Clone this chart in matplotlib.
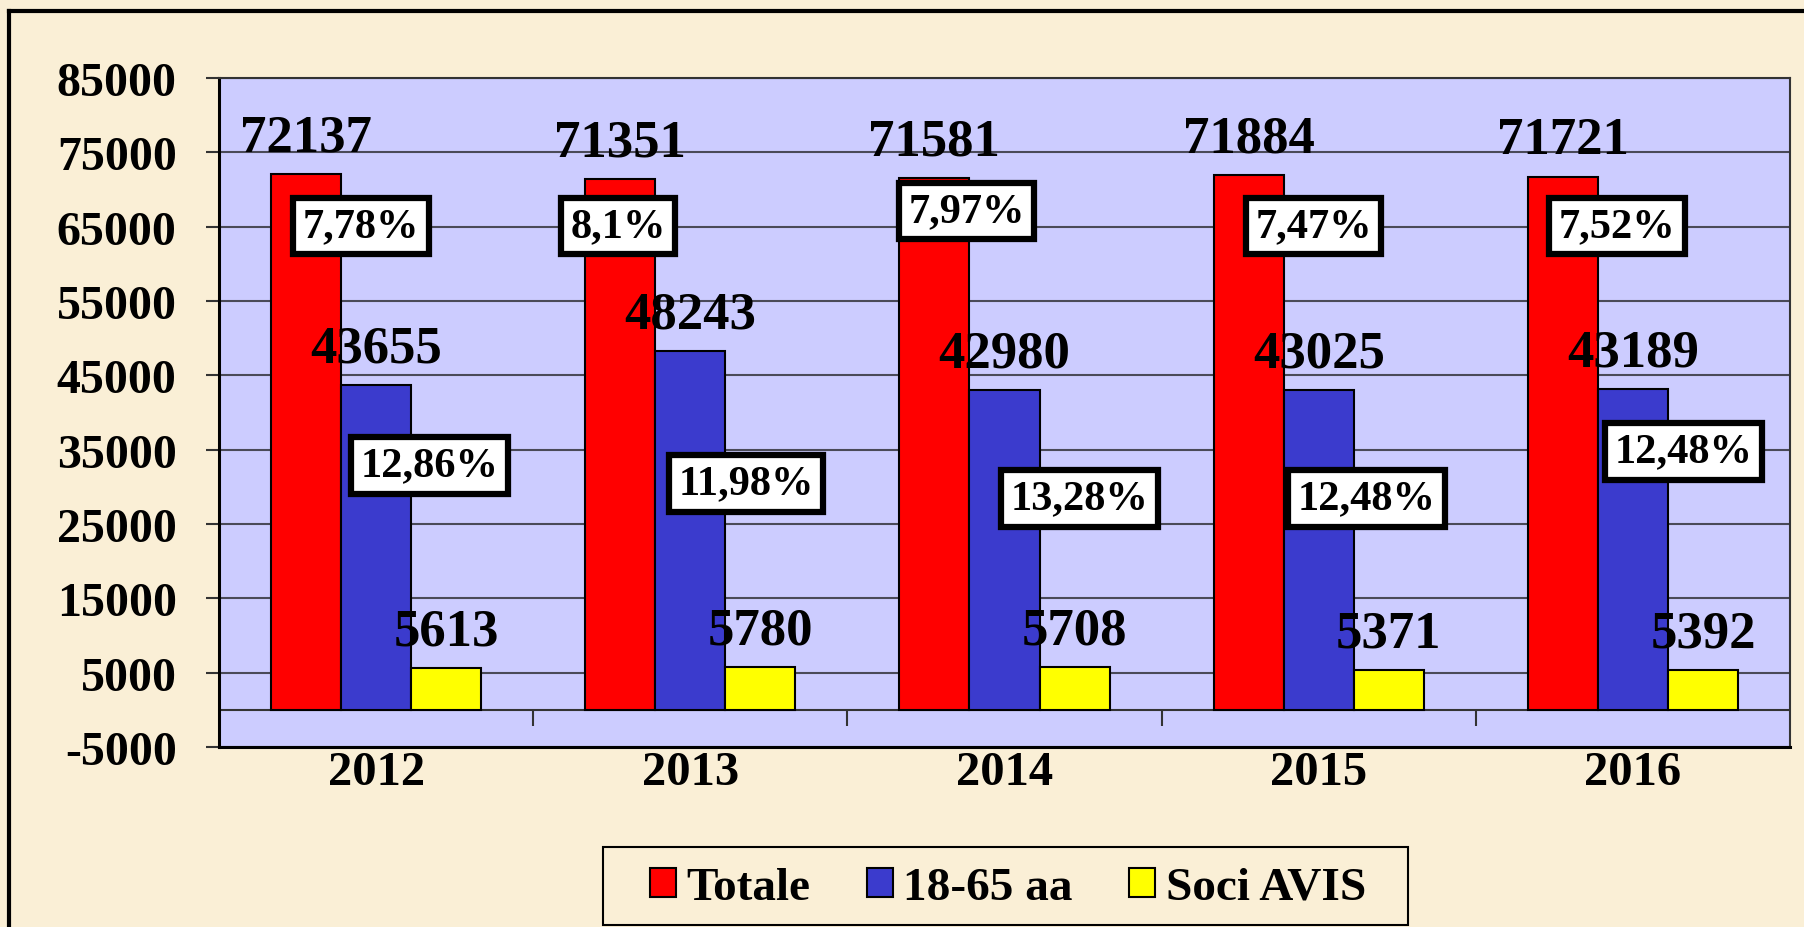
import numpy as np
import matplotlib
matplotlib.use("Agg")
import matplotlib.pyplot as plt
from matplotlib.patches import Rectangle, Patch
from matplotlib.lines import Line2D

plt.rcParams['font.family'] = ['Liberation Serif', 'DejaVu Serif']
plt.rcParams['font.weight'] = 'bold'

# ---- data ----
years = ["2012", "2013", "2014", "2015", "2016"]
totale = [72137, 71351, 71581, 71884, 71721]
eta_18_65 = [43655, 48243, 42980, 43025, 43189]
soci_avis = [5613, 5780, 5708, 5371, 5392]
pct_totale = ["7,78%", "8,1%", "7,97%", "7,47%", "7,52%"]
pct_18_65 = ["12,86%", "11,98%", "13,28%", "12,48%", "12,48%"]
series_names = ["Totale", "18-65 aa", "Soci AVIS"]

# ---- layout constants (label placement, in category / data units) ----
pct_tot_dx = [-0.048, -0.229, -0.121, -0.016, -0.051]
pct_tot_y = [65100, 65100, 67130, 65100, 65100]
pct_age_dx = [0.169, 0.178, 0.239, 0.153, 0.162]
pct_age_y = [32900, 30460, 28440, 28440, 34780]

BG = '#FAEFD6'
colors = ['#FF0000', '#3B3BCD', '#FFFF00']

W, H = 1804, 928
fig = plt.figure(figsize=(W / 100, H / 100), dpi=100, facecolor=BG)
ax = fig.add_axes([219 / W, 1 - 748 / H, (1790 - 219) / W, (748 - 79) / H])
ax.set_facecolor('#CCCCFF')

x = np.arange(len(years))
bw = 0.223
for i, (vals, c) in enumerate(zip([totale, eta_18_65, soci_avis], colors)):
    xs = x + (i - 1) * bw
    ax.bar(xs, vals, bw, color=c, edgecolor='black', linewidth=1.5, zorder=3)
    for xi, v in zip(xs, vals):
        ax.annotate(str(v), (xi, v), xytext=(0, 17), textcoords='offset points',
                    ha='center', va='baseline', fontsize=38, fontweight='bold',
                    color='black', zorder=5)

# percentage boxes
box = dict(boxstyle='square,pad=0.22', fc='white', ec='black', lw=4.5)
for i in range(len(years)):
    ax.text(x[i] + pct_tot_dx[i], pct_tot_y[i], pct_totale[i], ha='center', va='center',
            fontsize=30.5, fontweight='bold', bbox=box, zorder=7)
    ax.text(x[i] + pct_age_dx[i], pct_age_y[i], pct_18_65[i], ha='center', va='center',
            fontsize=30.5, fontweight='bold', bbox=box, zorder=7)

ax.set_xlim(-0.5, len(years) - 0.5)
ax.set_ylim(-5000, 85000)
yt = np.arange(-5000, 85001, 10000)
ax.set_yticks(yt)
ax.set_yticklabels([str(v) for v in yt], fontsize=34.5, fontweight='bold')
ax.set_xticks(x)
ax.set_xticklabels(years, fontsize=35, fontweight='bold')
ax.tick_params(axis='y', length=9.5, width=1.5, color='#333333', pad=21)
ax.tick_params(axis='x', length=0, pad=2)

ax.yaxis.grid(True, color='#4A4A58', lw=1.5, zorder=1)
ax.set_axisbelow(True)

# category axis at zero with boundary ticks
ax.axhline(0, color='#333333', lw=1.5, zorder=2)
ax.vlines(np.arange(0.5, len(years) - 0.5, 1), -2150, 0, color='#333333', lw=1.5, zorder=2)

for s in ['left', 'bottom']:
    ax.spines[s].set_color('black')
    ax.spines[s].set_linewidth(2.2)
for s in ['top', 'right']:
    ax.spines[s].set_color('#333333')
    ax.spines[s].set_linewidth(1.5)

# legend
handles = [Patch(facecolor=c, edgecolor='black', linewidth=1.5) for c in colors]
fig.legend(handles, series_names, loc='center', bbox_to_anchor=(1008 / W, 1 - 889 / H),
           ncol=3, frameon=False, prop={'size': 34, 'weight': 'bold'},
           handlelength=0.55, handleheight=0.58, handletextpad=0.22,
           columnspacing=1.2, borderpad=0)
fig.patches.append(Rectangle((603 / W, 1 - 926 / H), (1408 - 603) / W, (926 - 848) / H,
                             transform=fig.transFigure, fill=False, ec='black', lw=1.5))

# outer frame
fig.add_artist(Line2D([9 / W, 1.0], [1 - 12 / H, 1 - 12 / H], color='black', lw=3,
                      transform=fig.transFigure))
fig.add_artist(Line2D([9 / W, 9 / W], [0, 1 - 12 / H], color='black', lw=3,
                      transform=fig.transFigure))

fig.savefig('out.png', dpi=100, facecolor=BG)
